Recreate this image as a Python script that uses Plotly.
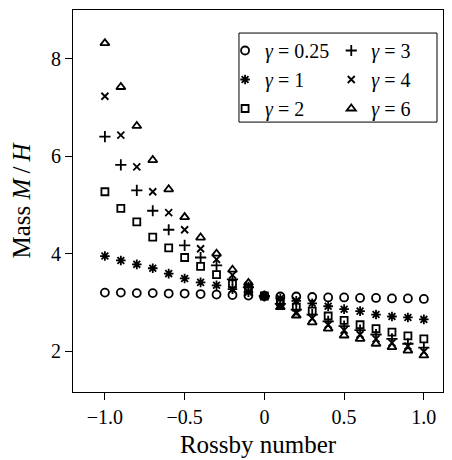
import plotly.graph_objects as go

# ---- data ----
rossby = [-1.0, -0.9, -0.8, -0.7, -0.6, -0.5, -0.4, -0.3, -0.2, -0.1, 0.0,
          0.1, 0.2, 0.3, 0.4, 0.5, 0.6, 0.7, 0.8, 0.9, 1.0]

mass_g025 = [3.20, 3.20, 3.19, 3.19, 3.18, 3.18, 3.17, 3.16, 3.15, 3.14, 3.13,
             3.12, 3.12, 3.11, 3.10, 3.10, 3.09, 3.09, 3.08, 3.08, 3.07]
mass_g1 = [3.95, 3.86, 3.78, 3.70, 3.59, 3.49, 3.41, 3.35, 3.27, 3.21, 3.13,
           3.08, 3.03, 2.98, 2.92, 2.86, 2.82, 2.75, 2.71, 2.69, 2.65]
mass_g2 = [5.27, 4.93, 4.65, 4.34, 4.12, 3.92, 3.74, 3.57, 3.38, 3.28, 3.13,
           3.01, 2.90, 2.82, 2.72, 2.63, 2.54, 2.46, 2.39, 2.31, 2.25]
mass_g3 = [6.40, 5.82, 5.30, 4.88, 4.49, 4.17, 3.92, 3.76, 3.47, 3.31, 3.13,
           2.97, 2.85, 2.75, 2.61, 2.51, 2.43, 2.34, 2.25, 2.15, 2.07]
mass_g4 = [7.23, 6.43, 5.78, 5.27, 4.84, 4.49, 4.10, 3.88, 3.56, 3.35, 3.13,
           2.93, 2.78, 2.67, 2.54, 2.43, 2.34, 2.25, 2.17, 2.10, 1.99]
mass_g6 = [8.32, 7.42, 6.62, 5.92, 5.32, 4.75, 4.33, 4.00, 3.67, 3.40, 3.13,
           2.90, 2.73, 2.59, 2.46, 2.32, 2.25, 2.15, 2.08, 2.01, 1.91]

series_names = ["<i>γ</i> = 0.25", "<i>γ</i> = 1", "<i>γ</i> = 2",
                "<i>γ</i> = 3", "<i>γ</i> = 4", "<i>γ</i> = 6"]
series_values = [mass_g025, mass_g1, mass_g2, mass_g3, mass_g4, mass_g6]
series_symbols = ["circle-open", "asterisk-open", "square-open",
                  "cross-thin-open", "x-thin-open", "triangle-up-open"]
series_sizes = [8, 8, 7, 8, 7, 8]
series_legend = ["legend", "legend", "legend", "legend2", "legend2", "legend2"]

x_tickvals = [-1.0, -0.5, 0.0, 0.5, 1.0]
x_ticktext = ["\u22121.0", "\u22120.5", "0", "0.5", "1.0"]
y_tickvals = [2, 4, 6, 8]
y_ticktext = ["2", "4", "6", "8"]

FONT = "Liberation Serif, Times New Roman, serif"

fig = go.Figure()
for name, vals, sym, sz, lg in zip(series_names, series_values, series_symbols,
                                   series_sizes, series_legend):
    fig.add_trace(go.Scatter(
        x=rossby, y=vals, mode="markers", name=name, legend=lg,
        marker=dict(symbol=sym, size=sz, color="black",
                    line=dict(color="black", width=1.8)),
    ))

# page body adds an 8px offset, so the figure is sized to fit inside it
fig.update_layout(
    width=444, height=452,
    margin=dict(l=65, r=9, t=2, b=68, autoexpand=False),
    paper_bgcolor="white", plot_bgcolor="white",
    font=dict(family=FONT, size=20, color="black"),
    showlegend=True,
    legend=dict(x=0.411, y=0.945, xanchor="left", yanchor="top",
                bgcolor="rgba(0,0,0,0)", borderwidth=0,
                font=dict(family=FONT, size=20), itemwidth=30,
                tracegroupgap=0),
    legend2=dict(x=0.698, y=0.945, xanchor="left", yanchor="top",
                 bgcolor="rgba(0,0,0,0)", borderwidth=0,
                 font=dict(family=FONT, size=20), itemwidth=30,
                 tracegroupgap=0),
    shapes=[dict(type="rect", xref="paper", yref="paper",
                 x0=0.4486, x1=0.9838, y0=0.7066, y1=0.9397,
                 line=dict(color="black", width=1), fillcolor="rgba(0,0,0,0)")],
)

fig.update_xaxes(
    range=[-1.2, 1.12], tickvals=x_tickvals, ticktext=x_ticktext,
    showline=True, linecolor="black", linewidth=1, mirror=True,
    ticks="outside", ticklen=7, tickwidth=1, tickcolor="black",
    showgrid=False, zeroline=False, automargin=False,
    tickfont=dict(family=FONT, size=20),
    title=dict(text="Rossby number", font=dict(family=FONT, size=25), standoff=8),
)
fig.update_yaxes(
    range=[1.16, 9.0], tickvals=y_tickvals, ticktext=y_ticktext,
    showline=True, linecolor="black", linewidth=1, mirror=True,
    ticks="outside", ticklen=7, tickwidth=1, tickcolor="black",
    showgrid=False, zeroline=False, automargin=False,
    tickfont=dict(family=FONT, size=20),
    title=dict(text="Mass <i>M</i>\u2009/\u2009<i>H</i>", font=dict(family=FONT, size=25), standoff=13),
)

fig.write_html("out.html")
